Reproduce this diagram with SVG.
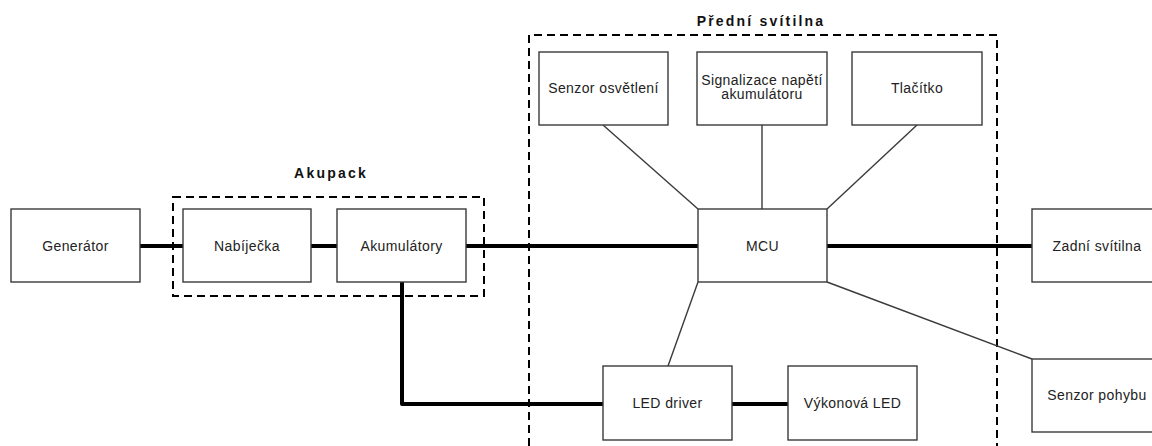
<svg xmlns="http://www.w3.org/2000/svg" width="1152" height="446" viewBox="0 0 1152 446">
<style>
.box{fill:#fff;stroke:#3a3a3a;stroke-width:1.4}
.lbl{font-family:"Liberation Sans",Arial,sans-serif;font-size:14px;fill:#222;text-anchor:middle;letter-spacing:0.4px}
.ttl{font-family:"Liberation Sans",Arial,sans-serif;font-size:14px;font-weight:bold;fill:#111;text-anchor:middle;letter-spacing:2.2px}
.thick{stroke:#000;stroke-width:4;fill:none;stroke-linecap:round;stroke-linejoin:round}
.thin{stroke:#3a3a3a;stroke-width:1.4;fill:none}
.dash{stroke:#000;stroke-width:2;fill:none;stroke-dasharray:8 5}
</style>
<rect width="1152" height="446" fill="#fff"/>
<g id="groups">
<g id="akupack"><rect class="dash" x="173" y="197" width="311" height="99"/><text class="ttl" x="331" y="178">Akupack</text></g>
<g id="predni-svitilna"><path class="dash" d="M529,446 V35 H997 V446"/><text class="ttl" x="761" y="26">Přední svítilna</text></g>
</g>
<g id="connectors">
<line class="thick" x1="140" y1="246" x2="183" y2="246"/>
<line class="thick" x1="311" y1="246" x2="337" y2="246"/>
<line class="thick" x1="466" y1="246" x2="698" y2="246"/>
<line class="thick" x1="827" y1="246" x2="1032" y2="246"/>
<polyline class="thick" points="402,282 402,404 603,404"/>
<line class="thick" x1="732" y1="404" x2="788" y2="404"/>
<line class="thin" x1="603" y1="125" x2="698" y2="209"/>
<line class="thin" x1="762" y1="125" x2="762" y2="209"/>
<line class="thin" x1="917" y1="125" x2="827" y2="209"/>
<line class="thin" x1="698" y1="282" x2="668" y2="366"/>
<line class="thin" x1="827" y1="282" x2="1032" y2="359"/>
</g>
<g id="generator"><rect class="box" x="11" y="209" width="129" height="73"/><text class="lbl" x="75.5" y="251">Generátor</text></g>
<g id="nabijecka"><rect class="box" x="183" y="209" width="128" height="73"/><text class="lbl" x="247" y="251">Nabíječka</text></g>
<g id="akumulatory"><rect class="box" x="337" y="209" width="129" height="73"/><text class="lbl" x="401.5" y="251">Akumulátory</text></g>
<g id="senzor-osvetleni"><rect class="box" x="539" y="52" width="129" height="73"/><text class="lbl" x="603.5" y="93">Senzor osvětlení</text></g>
<g id="signalizace"><rect class="box" x="697" y="52" width="130" height="73"/><text class="lbl" x="762" y="85">Signalizace napětí</text><text class="lbl" x="762" y="99">akumulátoru</text></g>
<g id="tlacitko"><rect class="box" x="852" y="52" width="130" height="73"/><text class="lbl" x="917" y="93">Tlačítko</text></g>
<g id="mcu"><rect class="box" x="698" y="209" width="129" height="73"/><text class="lbl" x="762.5" y="251">MCU</text></g>
<g id="zadni-svitilna"><rect class="box" x="1032" y="209" width="130" height="73"/><text class="lbl" x="1097" y="251">Zadní svítilna</text></g>
<g id="senzor-pohybu"><rect class="box" x="1032" y="359" width="130" height="73"/><text class="lbl" x="1097" y="400">Senzor pohybu</text></g>
<g id="led-driver"><rect class="box" x="603" y="366" width="129" height="74"/><text class="lbl" x="667.5" y="408">LED driver</text></g>
<g id="vykonova-led"><rect class="box" x="788" y="366" width="129" height="74"/><text class="lbl" x="852.5" y="408">Výkonová LED</text></g>
</svg>
